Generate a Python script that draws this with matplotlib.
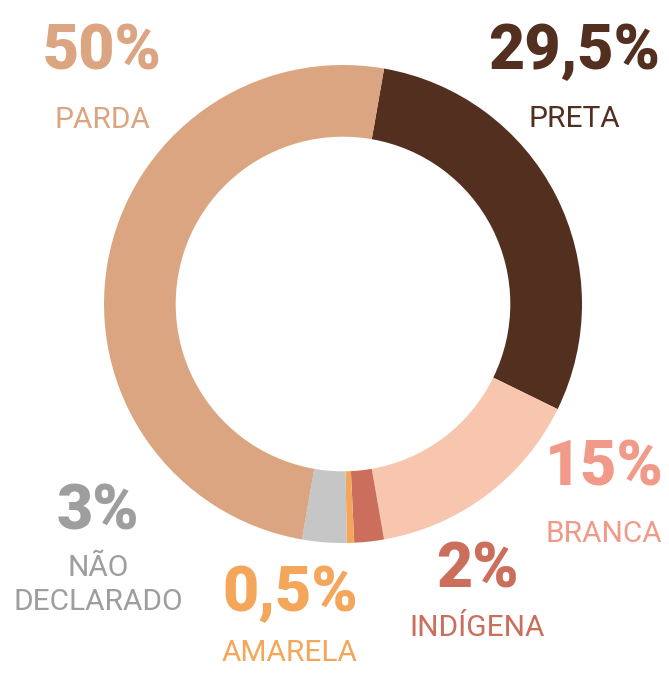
import matplotlib
matplotlib.use("Agg")
import matplotlib.pyplot as plt

# slices, clockwise starting just right of 12 o'clock
categories = ["PRETA", "BRANCA", "INDÍGENA", "AMARELA", "NÃO\nDECLARADO", "PARDA"]
values = [29.5, 15, 2, 0.5, 3, 50]
pct_labels = ["29,5%", "15%", "2%", "0,5%", "3%", "50%"]

slice_colors = ["#532F20", "#F8C5AF", "#CB6F5C", "#F4A65A", "#C6C6C6", "#DBA582"]
text_colors = ["#532F20", "#F29A8A", "#CB6F5C", "#F4A65A", "#9E9E9E", "#DBA582"]

W, H = 669, 675
# label anchor points in pixels (x center, y of percent, y of name)
label_pos = [(574, 52, 119), (604, 468, 534), (477, 571, 628),
             (290, 594, 653), (98, 513, 585), (102, 52, 120)]

fig = plt.figure(figsize=(W / 100, H / 100), dpi=100)

# donut: center (343, 304), radius 239 px
cx, cy, r = 343, 304, 239
ax = fig.add_axes([(cx - r) / W, (H - cy - r) / H, 2 * r / W, 2 * r / H])
ax.pie(values, colors=slice_colors, startangle=80.1, counterclock=False,
       radius=1, wedgeprops=dict(width=0.30, linewidth=0))
ax.set_xlim(-1, 1)
ax.set_ylim(-1, 1)
ax.axis("off")

for lab, pct, col, (x, yp, yn) in zip(categories, pct_labels, text_colors, label_pos):
    fig.text(x / W, 1 - yp / H, pct, color=col, ha="center", va="center",
             fontsize=45, fontweight="black", family=["Roboto", "DejaVu Sans"])
    fig.text(x / W, 1 - yn / H, lab, color=col, ha="center", va="center",
             fontsize=21.5, family=["Roboto", "DejaVu Sans"], linespacing=1.3)

fig.savefig("out.png", dpi=100)
